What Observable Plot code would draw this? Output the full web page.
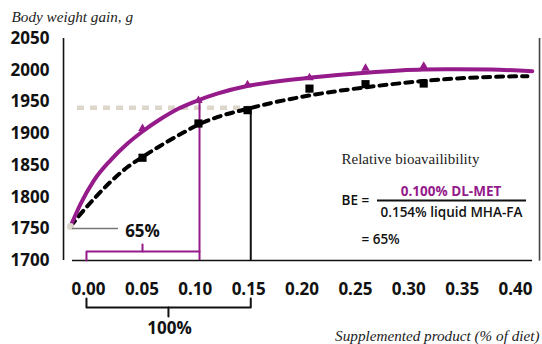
<!DOCTYPE html>
<html>
<head>
<meta charset="utf-8">
<script src="https://cdn.jsdelivr.net/npm/d3@7"></script>
<script src="https://cdn.jsdelivr.net/npm/@observablehq/plot@0.6"></script>
<style>
  html, body { margin: 0; padding: 0; background: #fff; }
  svg { display: block; }
</style>
</head>
<body>
<div id="chart"></div>
<script>
// ---- data ----
const xTicks = [0, 0.05, 0.10, 0.15, 0.20, 0.25, 0.30, 0.35, 0.40];
const yTicks = [1700, 1750, 1800, 1850, 1900, 1950, 2000, 2050];

// DL-MET fitted curve (purple solid)
const metCurveX = [-0.0169, -0.0075, 0.0050, 0.0206, 0.0363, 0.0503, 0.0675, 0.0850, 0.1033, 0.1206, 0.1487, 0.1705, 0.2064, 0.2595, 0.3138, 0.3454, 0.3766, 0.4157];
const metCurveY = [1753.6, 1789, 1826, 1858, 1884, 1903, 1923, 1940, 1953, 1963, 1975, 1981, 1988, 1996, 2001, 2001.5, 2001, 1998.5];
// liquid MHA-FA fitted curve (black dashed)
const mhaCurveX = [-0.0169, -0.0106, 0.0050, 0.0206, 0.0363, 0.0503, 0.0675, 0.0893, 0.1033, 0.1206, 0.1487, 0.1705, 0.2064, 0.2595, 0.3141, 0.3454, 0.3766, 0.4112];
const mhaCurveY = [1753.6, 1767, 1797, 1824, 1847, 1863, 1881, 1902, 1914.5, 1926, 1939, 1948, 1960, 1973, 1983, 1987, 1989.5, 1990.5];

// observed means
const doseX = [0.0506, 0.103, 0.149, 0.207, 0.2595, 0.314];
const metObs = [1905, 1949, 1974, 1985, 2000, 2003];
const mhaObs = [1862, 1916, 1937, 1971, 1978, 1979];

const baseline = 1753.6;      // unsupplemented
const equalGain = 1941;       // reference gain level
const metDose = 0.104;        // DL-MET dose reaching reference level
const mhaDose = 0.152;        // MHA-FA dose reaching reference level

const purple = "#951b8b";
const metCurve = metCurveX.map((x, i) => ({x, y: metCurveY[i]}));
const mhaCurve = mhaCurveX.map((x, i) => ({x, y: mhaCurveY[i]}));
const metPts = doseX.map((x, i) => ({x, y: metObs[i]}));
const mhaPts = doseX.map((x, i) => ({x, y: mhaObs[i]}));

const serif = "Liberation Serif";
const sans = "Open Sans";

const chart = Plot.plot({
  width: 542,
  height: 344,
  marginLeft: 88,
  marginRight: 27,
  marginTop: 38,
  marginBottom: 84,
  style: {fontFamily: sans, background: "#fff", color: "#111"},
  x: {domain: [0, 0.40]},
  y: {domain: [1700, 2050]},
  marks: [
    // frame lines
    Plot.ruleX([-0.0234], {y1: 1700, y2: 2050, stroke: "#111", strokeWidth: 1.6}),
    Plot.ruleX([0.4225], {y1: 1699, y2: 2050, stroke: "#444", strokeWidth: 1.6}),
    Plot.ruleY([1700], {x1: -0.015, x2: 0.416, stroke: "#111", strokeWidth: 1.6}),
    // axes
    Plot.axisY({ticks: yTicks, tickSize: 0, tickPadding: 39, tickFormat: d => String(d), label: null,
      fontSize: 17, fontWeight: "bold", fill: "#111"}),
    Plot.axisX({ticks: xTicks, tickSize: 0, tickPadding: 22, tickFormat: d3.format(".2f"), label: null,
      fontSize: 17, fontWeight: "bold", fill: "#111"}),
    // reference horizontal (equal gain)
    Plot.ruleY([equalGain], {x1: -0.0103, x2: mhaDose, stroke: "#ddd6cb", strokeWidth: 4.5, strokeDasharray: "7,6"}),
    // dose verticals
    Plot.ruleX([metDose], {y1: 1700, y2: 1949, stroke: purple, strokeWidth: 2}),
    Plot.ruleX([mhaDose], {y1: 1700, y2: 1937, stroke: "#111", strokeWidth: 2}),
    // curves
    Plot.line(mhaCurve, {x: "x", y: "y", stroke: "#000", strokeWidth: 4, strokeDasharray: "7,6", curve: "monotone-x"}),
    Plot.line(metCurve, {x: "x", y: "y", stroke: purple, strokeWidth: 4, curve: "monotone-x"}),
    // observations
    Plot.dot(mhaPts, {x: "x", y: "y", symbol: "square", fill: "#000", r: 4.6}),
    Plot.dot(metPts, {x: "x", y: "y", symbol: "triangle", fill: purple, r: 3.2, dy: -2}),
    // baseline point + 65% leader
    Plot.dot([{x: -0.0169, y: baseline}], {x: "x", y: "y", fill: "#ddd6cb", r: 3.5}),
    Plot.ruleY([1750.5], {x1: -0.015, x2: 0.0281, stroke: "#777", strokeWidth: 1.5}),
    Plot.text(["65%"], {x: [0.0506], y: [1745.7], fontSize: 17, fontWeight: "bold", fill: "#111"}),
    // 65% bracket
    Plot.line([{x: -0.0019, y: 1700}, {x: -0.0019, y: 1714.2}, {x: metDose, y: 1714.2}], {x: "x", y: "y", stroke: purple, strokeWidth: 2}),
    Plot.line([{x: 0.0506, y: 1714.2}, {x: 0.0506, y: 1725.2}], {x: "x", y: "y", stroke: purple, strokeWidth: 2}),
    // 100% bracket
    Plot.line([{x: -0.0019, y: 1640.1}, {x: -0.0019, y: 1625.9}, {x: mhaDose, y: 1625.9}, {x: mhaDose, y: 1640.1}], {x: "x", y: "y", stroke: "#111", strokeWidth: 2}),
    Plot.line([{x: 0.0749, y: 1625.9}, {x: 0.0749, y: 1611.7}], {x: "x", y: "y", stroke: "#111", strokeWidth: 2}),
    Plot.text(["100%"], {x: [0.0759], y: [1592.7], fontSize: 17, fontWeight: "bold", fill: "#111"}),
    // titles
    Plot.text(["Body weight gain, g"], {x: [-0.0721], y: [2083.3], textAnchor: "start", fontFamily: serif, fontStyle: "italic", fontSize: 15.2, fill: "#222"}),
    Plot.text(["Supplemented product (% of diet)"], {x: [0.4225], y: [1580.1], textAnchor: "end", fontFamily: serif, fontStyle: "italic", fontSize: 15.2, fill: "#222"}),
    // relative bioavailability annotation
    Plot.text(["Relative bioavailibility"], {x: [0.237], y: [1859.3], textAnchor: "start", fontFamily: serif, fontSize: 15, fill: "#222"}),
    Plot.text(["BE ="], {x: [0.237], y: [1794.6], textAnchor: "start", fontSize: 13.5, fontWeight: 600, fill: "#111"}),
    Plot.text(["0.100% DL-MET"], {x: [0.3396], y: [1808.8], fontSize: 13.5, fontWeight: "bold", fill: purple}),
    Plot.ruleY([1794.6], {x1: 0.2707, x2: 0.4103, stroke: "#111", strokeWidth: 2}),
    Plot.text(["0.154% liquid MHA-FA"], {x: [0.340], y: [1775.7], fontSize: 13.5, fontWeight: 600, fill: "#111"}),
    Plot.text(["= 65%"], {x: [0.2557], y: [1733.1], textAnchor: "start", fontSize: 13.5, fontWeight: 600, fill: "#111"})
  ]
});
document.getElementById("chart").appendChild(chart);
</script>
</body>
</html>
